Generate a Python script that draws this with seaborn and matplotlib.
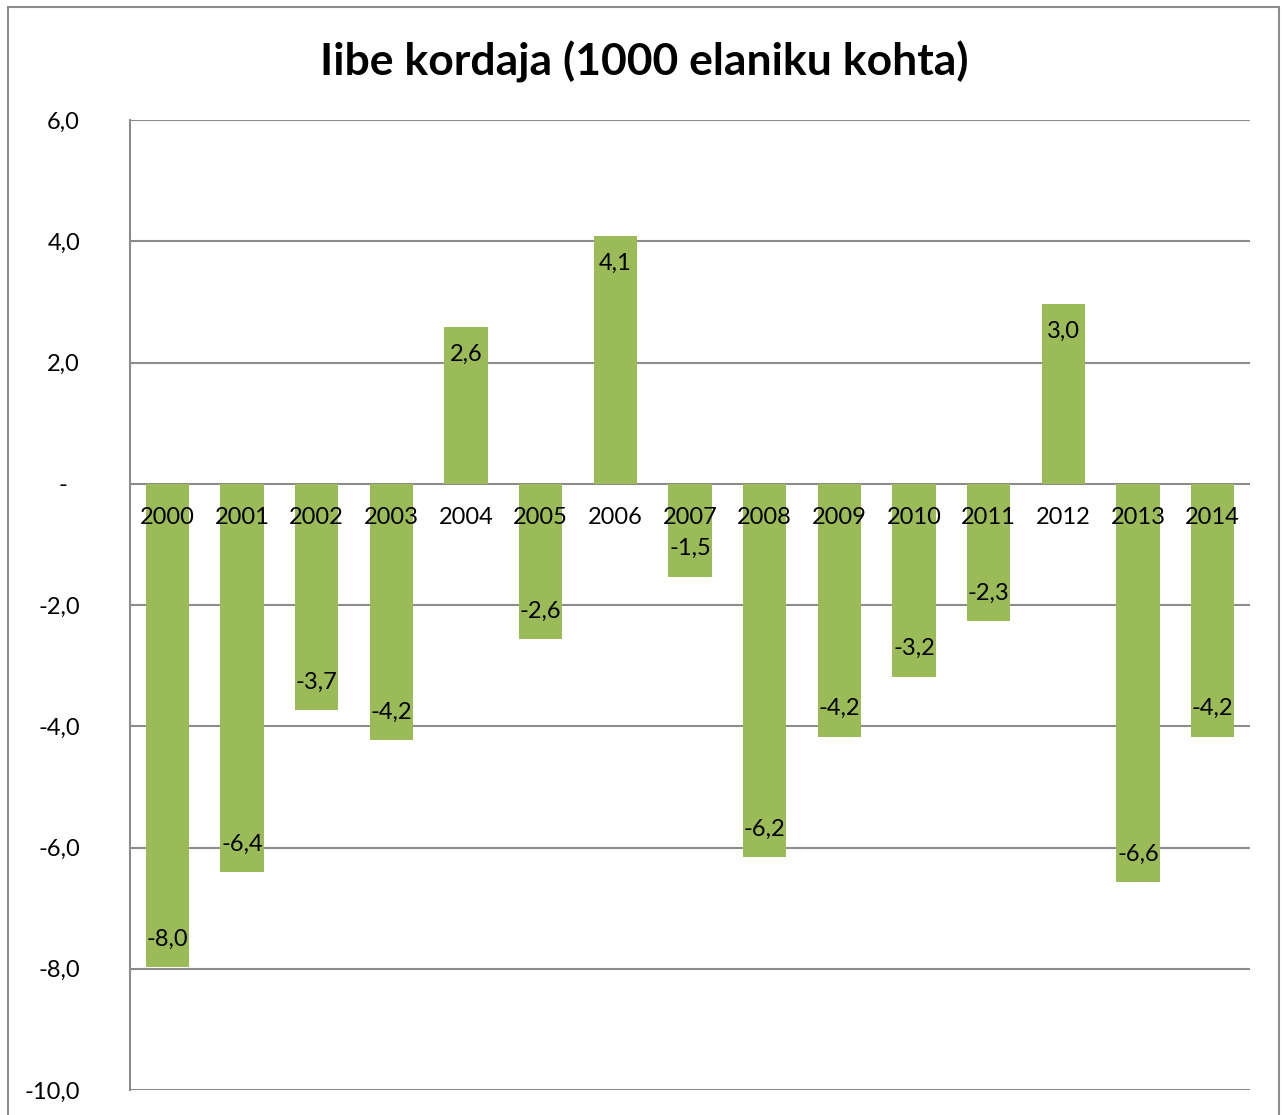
import matplotlib
matplotlib.use("Agg")
import matplotlib.pyplot as plt
import seaborn as sns
import pandas as pd
from matplotlib.patches import Rectangle

sns.set_theme(style="white")
plt.rcParams['font.family'] = ['Lato', 'DejaVu Sans']
plt.rcParams['text.color'] = 'black'
plt.rcParams['ytick.color'] = 'black'

years = ['2000', '2001', '2002', '2003', '2004', '2005', '2006', '2007',
         '2008', '2009', '2010', '2011', '2012', '2013', '2014']
values = [-7.97, -6.4, -3.74, -4.23, 2.59, -2.56, 4.09, -1.53,
          -6.16, -4.17, -3.18, -2.26, 2.97, -6.57, -4.17]
y_ticks = [-10, -8, -6, -4, -2, 0, 2, 4, 6]

df = pd.DataFrame({'aasta': years, 'kordaja': values})

fig = plt.figure(figsize=(12.82, 11.15), dpi=100)
ax = fig.add_axes([130/1282, 1 - 1090/1115, 1120/1282, 970/1115])

sns.barplot(data=df, x='aasta', y='kordaja', color='#9BBB59', width=0.58,
            saturation=1, linewidth=0, ax=ax, zorder=3)

ax.set_ylim(-10, 6)
ax.set_yticks(y_ticks)
ax.set_yticklabels(['-  ' if t == 0 else f'{t:.1f}'.replace('.', ',') for t in y_ticks],
                   fontsize=17, color='black')
ax.tick_params(axis='y', length=0, pad=36)
ax.tick_params(axis='x', length=0, labelbottom=False)
ax.set_xlabel('')
ax.set_ylabel('')
ax.grid(axis='y', color='#8c8c8c', linewidth=1.5, zorder=0)
ax.set_axisbelow(True)
for s in ['top', 'right', 'bottom']:
    ax.spines[s].set_visible(False)
ax.spines['left'].set_color('#8c8c8c')
ax.spines['left'].set_linewidth(1.5)

for i, (yr, v) in enumerate(zip(years, values)):
    off = -20 if v > 0 else 20
    ax.annotate(f'{v:.1f}'.replace('.', ','), xy=(i, v), xytext=(0, off),
                textcoords='offset points', ha='center', va='center',
                fontsize=17, color='black', zorder=5)
    ax.annotate(yr, xy=(i, 0), xytext=(0, -24.5), textcoords='offset points',
                ha='center', va='center', fontsize=17, color='black', zorder=5)

fig.text(644/1282, 1 - 62/1115, 'Iibe kordaja (1000 elaniku kohta)',
         ha='center', va='center', fontsize=32, fontweight='bold', color='black')

fig.patches.append(Rectangle((8/1282, -0.05), 1271/1282, 1.05 - 7/1115,
                             transform=fig.transFigure, fill=False,
                             edgecolor='#8c8c8c', linewidth=1.5))

fig.savefig('out.png', dpi=100)
